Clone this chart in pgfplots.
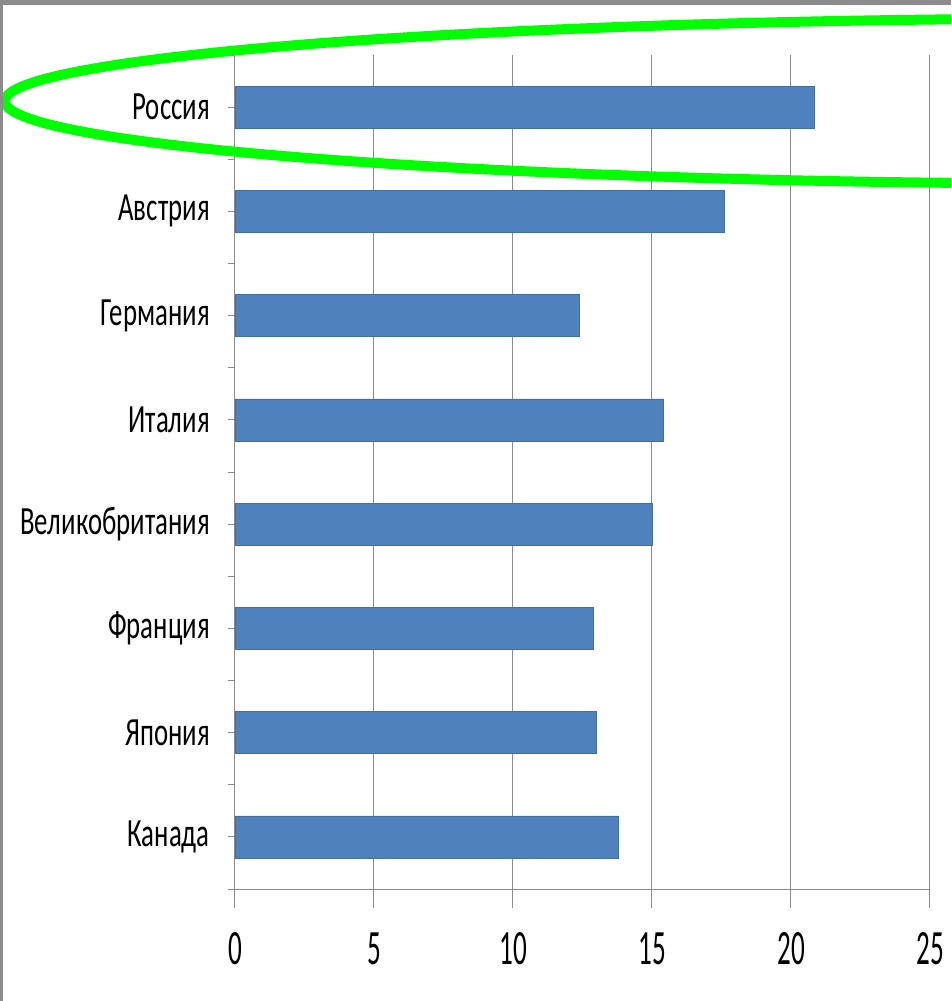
\documentclass[border=0pt]{standalone}
\usepackage{pgfplots}
\pgfplotsset{compat=1.18}
\usepackage{fontspec}
\setmainfont{Carlito}
\newfontfamily\catfont[FakeStretch=0.67]{Carlito}
\newfontfamily\numfont[FakeStretch=0.55]{Carlito}
\definecolor{barblue}{HTML}{4F81BD}
\definecolor{gridgray}{HTML}{8C8C8C}
\definecolor{hlgreen}{HTML}{00FF00}
\begin{document}
\begin{tikzpicture}[x=1pt,y=1pt]
\path[use as bounding box] (0,0) rectangle (713.25,750.75);
\clip (0,0) rectangle (713.25,750.75);
\fill[white] (0,0) rectangle (713.25,750.75);
\begin{axis}[
  at={(176.25pt,84pt)}, anchor=south west,
  scale only axis, width=521.25pt, height=625.5pt,
  xmin=0, xmax=25, ymin=-0.5, ymax=7.5,
  xbar, bar width=31.5pt,
  axis x line*=bottom, axis y line*=left,
  axis line style={gridgray, line width=0.75pt, -},
  xtick={0,5,10,15,20,25},
  ytick={-0.5,0.5,1.5,2.5,3.5,4.5,5.5,6.5,7.5}, yticklabels={},
  extra y ticks={0,1,2,3,4,5,6,7},
  extra y tick labels={Канада,Япония,Франция,Великобритания,Италия,Германия,Австрия,Россия},
  extra y tick style={/pgfplots/major tick length=0pt},
  tick align=outside,
  x tick style={gridgray, line width=0.75pt, /pgfplots/major tick length=14.25pt},
  y tick style={gridgray, line width=0.75pt, /pgfplots/major tick length=5.25pt},
  xmajorgrids, major grid style={gridgray, line width=0.75pt},
  /pgf/number format/assume math mode=true,
  xticklabel style={font=\numfont\fontsize{37}{42}\selectfont, text=black, anchor=north, yshift=-25pt},
  yticklabel style={font=\catfont\fontsize{30}{36}\selectfont, text=black, anchor=east, inner sep=0pt, xshift=-18.75pt},
  clip=false,
]
\addplot[fill=barblue, draw=barblue!85!black, line width=0.4pt]
  coordinates {(13.79,0) (12.99,1) (12.89,2) (15.0,3) (15.41,4) (12.39,5) (17.59,6) (20.83,7)};
\draw[hlgreen, line width=7.5pt] (axis cs:31.29,7.058) ellipse [x radius=39.57, y radius=0.792];
\end{axis}
\fill[gridgray] (0,747) rectangle (713.25,750.75);
\fill[gridgray] (0,0) rectangle (2.25,750.75);
\end{tikzpicture}
\end{document}
